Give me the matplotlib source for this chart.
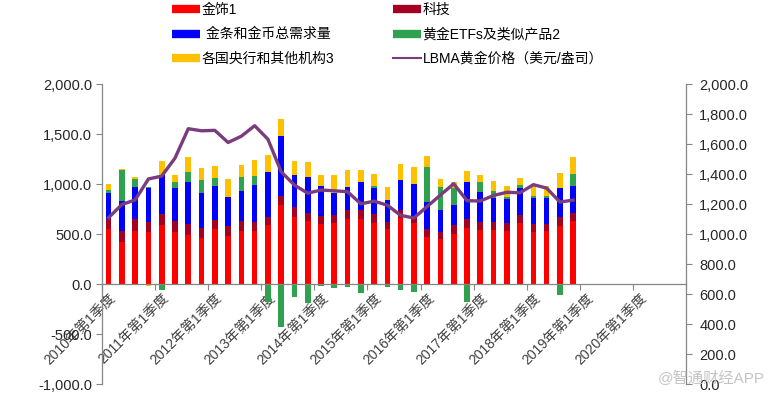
import numpy as np
import matplotlib
matplotlib.use("Agg")
import matplotlib.pyplot as plt
from matplotlib.lines import Line2D
from matplotlib.ticker import FuncFormatter

plt.rcParams['font.family'] = ['Liberation Sans', 'Noto Sans CJK SC']

# quarters 2010 Q1 .. 2018 Q4 (axis runs to 2020 Q4)
years = list(range(2010, 2021))
tick_labels = ["{}年第1季度".format(y) for y in years]

# tonnes
jewellery = [550, 417, 533, 517, 593, 517, 493, 460, 550, 483, 533, 533,
             593, 793, 673, 633, 600, 610, 650, 650, 613, 547, 663, 610,
             470, 447, 505, 560, 540, 540, 527, 610, 517, 527, 583, 627]
technology = [100, 110, 117, 107, 103, 117, 107, 100, 93, 93, 100, 90,
              80, 90, 93, 73, 83, 83, 90, 90, 83, 73, 73, 70,
              77, 73, 85, 90, 77, 77, 80, 83, 83, 73, 83, 87]
bar_coin = [260, 307, 323, 333, 397, 327, 417, 347, 340, 290, 293, 370,
            450, 600, 327, 367, 300, 217, 233, 277, 267, 220, 303, 323,
            277, 220, 197, 367, 300, 243, 243, 267, 260, 260, 293, 270]
etfs = [27, 307, 77, 17, -60, 57, 100, 133, 77, 7, 147, 90,
        -183, -433, -127, -193, -17, -40, -33, -93, 17, -30, -63, -77,
        347, 230, 170, -183, 100, 73, 23, 33, 23, 23, -107, 117]
central_banks = [60, 10, 23, -23, 140, 77, 150, 120, 120, 177, 117, 160,
                 167, 167, 140, 150, 110, 183, 170, 127, 117, 130, 163, 167,
                 107, 77, 60, 117, 77, 93, 110, 67, 110, 100, 147, 167]
# LBMA quarterly average, USD/oz
gold_price = [1109, 1197, 1227, 1367, 1386, 1506, 1702, 1688,
              1691, 1610, 1652, 1722, 1632, 1415, 1326, 1272,
              1293, 1288, 1282, 1201, 1219, 1192, 1124, 1107,
              1183, 1260, 1335, 1222, 1220, 1257, 1278, 1275,
              1329, 1306, 1213, 1226]

series = [
    (jewellery, '#FF0000', '金饰1'),
    (technology, '#A50021', '科技'),
    (bar_coin, '#0000FF', ' 金条和金币总需求量'),
    (etfs, '#2EA24E', '黄金ETFs及类似产品2'),
    (central_banks, '#FFC000', '各国央行和其他机构3'),
]
line_color = '#7B3C7E'
axis_color = '#868686'
text_color = '#262626'

x = np.arange(len(jewellery))

fig = plt.figure(figsize=(7.75, 3.97), dpi=100)
ax = fig.add_axes([102 / 775, 1 - 384 / 397, 584 / 775, 300 / 397])

pos_base = np.zeros(len(x))
neg_base = np.zeros(len(x))
for vals, col, lab in series:
    v = np.array(vals, dtype=float)
    base = np.where(v >= 0, pos_base, neg_base)
    ax.bar(x, v, width=0.42, bottom=base, color=col, linewidth=0, zorder=2)
    pos_base = pos_base + np.where(v >= 0, v, 0)
    neg_base = neg_base + np.where(v < 0, v, 0)

ax.set_xlim(-0.5, 43.5)
ax.set_ylim(-1000, 2000)
ax.set_yticks(np.arange(-1000, 2001, 500))
ax.yaxis.set_major_formatter(FuncFormatter(lambda v, p: "{:,.1f}".format(v)))

ax.spines['top'].set_visible(False)
ax.spines['right'].set_visible(False)
ax.spines['bottom'].set_position(('data', 0))
for s in ['left', 'bottom']:
    ax.spines[s].set_color(axis_color)
    ax.spines[s].set_linewidth(0.9)

ax.set_xticks(np.arange(-0.5, 44, 4))
ax.set_xticklabels([])
ax.set_xticks(np.arange(0, 41, 4), minor=True)
ax.set_xticklabels(tick_labels, minor=True, rotation=45, ha='right', va='top',
                   rotation_mode='anchor', fontsize=10, color='#404040')
ax.tick_params(axis='x', which='major', length=4, color=axis_color, direction='out')
ax.tick_params(axis='x', which='minor', length=0, pad=5)
ax.tick_params(axis='y', length=4, color=axis_color, labelsize=10.5,
               labelcolor=text_color, pad=3)

ax2 = ax.twinx()
ax2.plot(x, gold_price, color=line_color, lw=2.4, zorder=3)
ax2.set_ylim(0, 2000)
ax2.set_yticks(np.arange(0, 2001, 200))
ax2.yaxis.set_major_formatter(FuncFormatter(lambda v, p: "{:,.1f}".format(v)))
for s in ['top', 'left', 'bottom']:
    ax2.spines[s].set_visible(False)
ax2.spines['right'].set_color(axis_color)
ax2.spines['right'].set_linewidth(0.9)
ax2.tick_params(axis='y', length=4, color=axis_color, labelsize=10.5,
                labelcolor=text_color, pad=5.5)

# legend, filled column by column
h = [Line2D([], [], color=c, lw=6, solid_capstyle='butt') for _, c, _ in series]
lab = [l for _, _, l in series]
h.append(Line2D([], [], color=line_color, lw=1.5))
lab.append('LBMA黄金价格（美元/盎司）')
order = [0, 2, 4, 1, 3, 5]
fig.legend([h[i] for i in order], [lab[i] for i in order], ncol=2,
           loc='upper left', bbox_to_anchor=(172 / 775, 1 - 3 / 397),
           frameon=False, fontsize=10, handlelength=2.0, handletextpad=0.15,
           columnspacing=4.2, labelspacing=0.75, borderpad=0, borderaxespad=0)

fig.text(658 / 775, 1 - 378 / 397, '@智通财经APP', color='#c4c4c4', fontsize=11,
         va='center', ha='left')

fig.savefig('out.png', dpi=100)
